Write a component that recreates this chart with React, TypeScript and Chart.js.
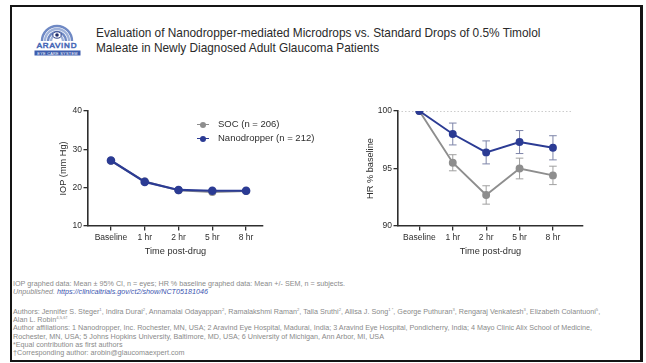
import React, { useEffect, useRef } from "react";
import { Chart, registerables } from "chart.js";

Chart.register(...registerables);

// ---------- data ----------
const categories = ["Baseline", "1 hr", "2 hr", "5 hr", "8 hr"];
const seriesNames = ["SOC (n = 206)", "Nanodropper (n = 212)"];

const iopSOC = [27.0, 21.6, 19.3, 18.9, 19.1];
const iopSOCErr = [0.45, 0.4, 0.4, 0.4, 0.4];
const iopNano = [27.1, 21.5, 19.4, 19.2, 19.2];
const iopNanoErr = [0.45, 0.4, 0.4, 0.4, 0.4];
const iopTicks = [10, 20, 30, 40];

const hrSOC = [100, 95.5, 92.7, 95.0, 94.4];
const hrSOCErr = [0, 0.7, 0.8, 0.9, 0.8];
const hrNano = [100, 98.0, 96.4, 97.3, 96.8];
const hrNanoErr = [0, 0.95, 1.0, 1.0, 1.05];
const hrTicks = [90, 95, 100];
const hrReferenceValue = 100;
const hrReferenceSpan = [-0.64, 4.6];

// ---------- styles ----------
const INK = "#2e2e2e";
const GREY = "#8e8e8e";
const BLUE = "#2b3b94";
const FONT = "'Liberation Sans', Arial, Helvetica, sans-serif";

const errorBarPlugin = {
  id: "errorBars",
  beforeDatasetsDraw(chart: any) {
    const ctx = chart.ctx;
    const yScale = chart.scales.y;
    chart.data.datasets.forEach((ds: any, di: number) => {
      const errs = ds.errors;
      if (!errs) return;
      const meta = chart.getDatasetMeta(di);
      ctx.save();
      ctx.strokeStyle = ds.errorColor || ds.borderColor;
      ctx.lineWidth = ds.errorWidth || 1;
      meta.data.forEach((pt: any, i: number) => {
        const e = errs[i];
        if (!e) return;
        const v = ds.data[i].y;
        const yTop = yScale.getPixelForValue(v + e);
        const yBot = yScale.getPixelForValue(v - e);
        const x = pt.x;
        const cap = ds.capWidth ?? 4;
        ctx.beginPath();
        ctx.moveTo(x, yTop);
        ctx.lineTo(x, yBot);
        ctx.moveTo(x - cap, yTop);
        ctx.lineTo(x + cap, yTop);
        ctx.moveTo(x - cap, yBot);
        ctx.lineTo(x + cap, yBot);
        ctx.stroke();
      });
      ctx.restore();
    });
  },
};

function toPoints(values: number[]) {
  return values.map((v, i) => ({ x: i, y: v }));
}

function axisOptions(opts: {
  min: number;
  max: number;
  ticks: number[];
  title: string;
  isX: boolean;
  fitSize: number;
  titlePad: any;
}) {
  return {
    type: "linear",
    min: opts.min,
    max: opts.max,
    afterBuildTicks: (s: any) => {
      s.ticks = opts.ticks.map((v) => ({ value: v }));
    },
    afterFit: (s: any) => {
      if (opts.isX) s.height = opts.fitSize;
      else s.width = opts.fitSize;
    },
    ticks: {
      autoSkip: false,
      maxRotation: 0,
      minRotation: 0,
      padding: opts.isX ? 2 : 1.5,
      color: INK,
      font: { family: FONT, size: 8.5 },
      callback: (v: any) => (opts.isX ? categories[v] : String(v)),
    },
    grid: {
      display: true,
      drawOnChartArea: false,
      drawTicks: true,
      tickLength: 4.5,
      color: INK,
      lineWidth: 1.3,
    },
    border: { display: true, color: INK, width: 1.6 },
    title: {
      display: true,
      text: opts.title,
      color: INK,
      font: { family: FONT, size: 9.2 },
      padding: opts.titlePad,
    },
  };
}

function ChartCanvas({ config, style, width, height }: any) {
  const ref = useRef<HTMLCanvasElement | null>(null);
  useEffect(() => {
    if (!ref.current) return;
    const chart = new Chart(ref.current, config);
    return () => chart.destroy();
  }, []);
  return (
    <canvas
      ref={ref}
      width={width}
      height={height}
      style={{ position: "absolute", width, height, ...style }}
    />
  );
}

const iopConfig: any = {
  type: "line",
  data: {
    datasets: [
      {
        label: seriesNames[1],
        data: toPoints(iopNano),
        errors: iopNanoErr,
        borderColor: BLUE,
        backgroundColor: BLUE,
        borderWidth: 2.2,
        pointRadius: 3.2,
        capWidth: 3,
        order: 0,
      },
      {
        label: seriesNames[0],
        data: toPoints(iopSOC),
        errors: iopSOCErr,
        borderColor: GREY,
        backgroundColor: GREY,
        borderWidth: 2,
        pointRadius: 3,
        capWidth: 3,
        order: 1,
      },
    ],
  },
  options: {
    animation: false,
    responsive: false,
    devicePixelRatio: 1,
    layout: { padding: { left: 0, top: 16, right: 59, bottom: 0 } },
    plugins: { legend: { display: false }, tooltip: { enabled: false } },
    scales: {
      x: axisOptions({
        min: -0.68,
        max: 4.5,
        ticks: [0, 1, 2, 3, 4],
        title: "Time post-drug",
        isX: true,
        fitSize: 39,
        titlePad: { top: 2, bottom: 7.6 },
      }),
      y: axisOptions({
        min: 10,
        max: 40,
        ticks: iopTicks,
        title: "IOP (mm Hg)",
        isX: false,
        fitSize: 36,
        titlePad: { top: 5.6, bottom: 0 },
      }),
    },
  },
  plugins: [errorBarPlugin],
};

const hrConfig: any = {
  type: "line",
  data: {
    datasets: [
      {
        label: seriesNames[1],
        data: toPoints(hrNano),
        errors: hrNanoErr,
        borderColor: BLUE,
        backgroundColor: BLUE,
        errorColor: "#7d84a8",
        borderWidth: 1.9,
        pointRadius: 3,
        capWidth: 3.8,
        order: 0,
      },
      {
        label: seriesNames[0],
        data: toPoints(hrSOC),
        errors: hrSOCErr,
        borderColor: GREY,
        backgroundColor: GREY,
        errorColor: "#a0a0a0",
        borderWidth: 1.9,
        pointRadius: 3,
        capWidth: 3.8,
        order: 1,
      },
      {
        label: "reference",
        data: hrReferenceSpan.map((x) => ({ x, y: hrReferenceValue })),
        borderColor: "#9a9a9a",
        borderWidth: 1.2,
        borderDash: [1.5, 2],
        pointRadius: 0,
        order: 2,
      },
    ],
  },
  options: {
    animation: false,
    responsive: false,
    devicePixelRatio: 1,
    layout: { padding: { left: 0, top: 16, right: 63, bottom: 0 } },
    plugins: { legend: { display: false }, tooltip: { enabled: false } },
    scales: {
      x: axisOptions({
        min: -0.64,
        max: 4.9,
        ticks: [0, 1, 2, 3, 4],
        title: "Time post-drug",
        isX: true,
        fitSize: 39,
        titlePad: { top: 2, bottom: 7.6 },
      }),
      y: axisOptions({
        min: 90,
        max: 100,
        ticks: hrTicks,
        title: "HR % baseline",
        isX: false,
        fitSize: 40,
        titlePad: { top: 6.6, bottom: 0 },
      }),
    },
  },
  plugins: [errorBarPlugin],
};

function LegendItem({ color, label, top }: any) {
  return (
    <div style={{ position: "absolute", left: 196, top: top - 6, height: 12, width: 140 }}>
      <div style={{ position: "absolute", left: 1, top: 5.5, width: 12, height: 1.6, background: color }} />
      <div
        style={{
          position: "absolute",
          left: 4,
          top: 3.5,
          width: 6,
          height: 6,
          borderRadius: 3,
          background: color,
        }}
      />
      <div
        style={{
          position: "absolute",
          left: 22,
          top: 0,
          lineHeight: "12px",
          fontSize: 9.5,
          color: INK,
          fontFamily: FONT,
          whiteSpace: "nowrap",
        }}
      >
        {label}
      </div>
    </div>
  );
}

function Logo() {
  return (
    <svg
      width={52}
      height={40}
      viewBox="0 0 52 40"
      style={{ position: "absolute", left: 32, top: 19 }}
    >
      {[15, 12, 9, 6].map((r, i) => (
        <path
          key={r}
          d={`M ${25 - r} 22 A ${r} ${r} 0 0 1 ${25 + r} 22`}
          fill="none"
          stroke={i % 2 === 0 ? "#6f89c4" : "#9fb2da"}
          strokeWidth={2.4}
        />
      ))}
      <ellipse cx={25} cy={16} rx={4.2} ry={3.2} fill="#ffffff" stroke="#2d3f86" strokeWidth={1} />
      <circle cx={25} cy={16} r={1.8} fill="#1f2c6b" />
      <text
        x={25}
        y={29}
        textAnchor="middle"
        fontFamily={FONT}
        fontSize={8}
        fill="#ffffff"
        stroke="#4c6cb8"
        strokeWidth={0.7}
        letterSpacing={0.8}
      >
        ARAVIND
      </text>
      <rect x={2.5} y={31.5} width={46} height={5} fill="#3e5eae" />
      <text
        x={25.5}
        y={35.5}
        textAnchor="middle"
        fontFamily={FONT}
        fontSize={3.8}
        fill="#ffffff"
        letterSpacing={0.3}
      >
        EYE CARE SYSTEM
      </text>
    </svg>
  );
}

const footStyle: any = {
  position: "absolute",
  left: 13,
  fontFamily: FONT,
  fontSize: 7.2,
  lineHeight: "8.2px",
  color: "#8a8a8a",
  whiteSpace: "nowrap",
};
const supStyle: any = { fontSize: 4.2, verticalAlign: "super", lineHeight: 0 };

export default function App() {
  return (
    <div
      style={{
        position: "fixed",
        left: 0,
        top: 0,
        width: 646,
        height: 363,
        background: "#ffffff",
        overflow: "hidden",
      }}
    >
      <div
        style={{
          position: "absolute",
          left: 10,
          top: 5,
          width: 633,
          height: 357,
          boxSizing: "border-box",
          border: "2px solid #151515",
          borderRightWidth: 3,
        }}
      />
      <Logo />
      <div
        style={{
          position: "absolute",
          left: 96,
          top: 26,
          fontFamily: FONT,
          fontSize: 11.85,
          lineHeight: "15px",
          color: "#2a2a2a",
          whiteSpace: "nowrap",
        }}
      >
        Evaluation of Nanodropper-mediated Microdrops vs. Standard Drops of 0.5% Timolol
        <br />
        Maleate in Newly Diagnosed Adult Glaucoma Patients
      </div>

      <ChartCanvas config={iopConfig} width={270} height={170} style={{ left: 52, top: 95 }} />
      <ChartCanvas config={hrConfig} width={288} height={170} style={{ left: 358, top: 95 }} />

      <LegendItem color={GREY} label={seriesNames[0]} top={124} />
      <LegendItem color={BLUE} label={seriesNames[1]} top={138} />

      <div style={{ ...footStyle, top: 280 }}>
        IOP graphed data: Mean ± 95% CI, n = eyes; HR % baseline graphed data: Mean +/- SEM, n = subjects.
      </div>
      <div style={{ ...footStyle, top: 288.2, fontStyle: "italic" }}>
        Unpublished.{" "}
        <span style={{ color: "#3b55b0" }}>https://clinicaltrials.gov/ct2/show/NCT05181046</span>
      </div>
      <div style={{ ...footStyle, top: 308 }}>
        Authors: Jennifer S. Steger<span style={supStyle}>1</span>, Indira Durai<span style={supStyle}>2</span>,
        Annamalai Odayappan<span style={supStyle}>2</span>, Ramalakshmi Raman<span style={supStyle}>2</span>, Talla
        Sruthi<span style={supStyle}>2</span>, Allisa J. Song<span style={supStyle}>1 *</span>, George Puthuran
        <span style={supStyle}>3</span>, Rengaraj Venkatesh<span style={supStyle}>3</span>, Elizabeth Colantuoni
        <span style={supStyle}>5</span>,
      </div>
      <div style={{ ...footStyle, top: 316.2 }}>
        Alan L. Robin<span style={supStyle}>4,5,6†</span>
      </div>
      <div style={{ ...footStyle, top: 324.4 }}>
        Author affiliations: 1 Nanodropper, Inc. Rochester, MN, USA; 2 Aravind Eye Hospital, Madurai, India; 3 Aravind
        Eye Hospital, Pondicherry, India; 4 Mayo Clinic Alix School of Medicine,
      </div>
      <div style={{ ...footStyle, top: 332.6 }}>
        Rochester, MN, USA; 5 Johns Hopkins University, Baltimore, MD, USA; 6 University of Michigan, Ann Arbor, MI, USA
      </div>
      <div style={{ ...footStyle, top: 340.8 }}>*Equal contribution as first authors</div>
      <div style={{ ...footStyle, top: 349 }}>†Corresponding author: arobin@glaucomaexpert.com</div>
    </div>
  );
}
